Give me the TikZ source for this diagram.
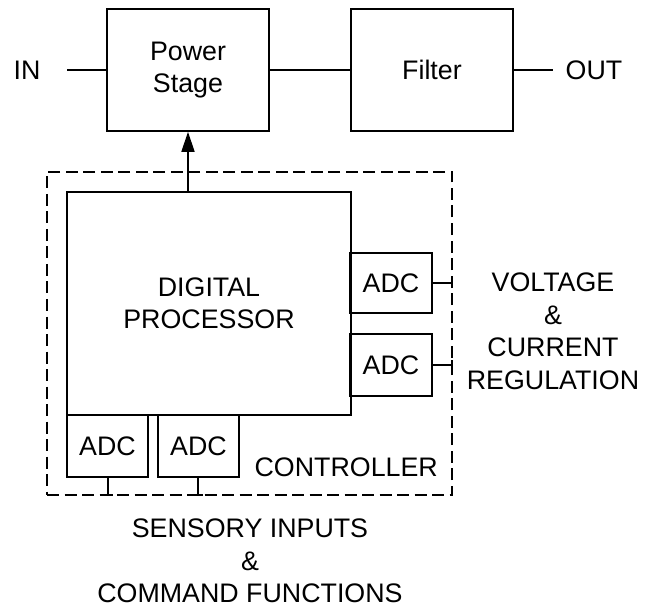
\documentclass[tikz,border=0pt]{standalone}
\usepackage{fontspec}
\setmainfont{Liberation Sans}
\usetikzlibrary{arrows.meta}
\begin{document}
\begin{tikzpicture}[x=1pt,y=-1pt,
  every node/.style={font=\fontsize{26.8}{32.5}\selectfont, inner sep=0pt, align=center},
  blk/.style={draw, line width=1.6pt, rectangle},
  wire/.style={line width=1.6pt},
  ctl/.style={draw, line width=2.6pt, dash pattern=on 12pt off 5.5pt},
  tip/.style={line width=1.6pt},
  lbl/.style={}]
\useasboundingbox (0,0) rectangle (654,607);
% top chain
\node[blk, minimum width=162pt, minimum height=122pt] (ps) at (188,70) {Power\\Stage};
\node[blk, minimum width=162pt, minimum height=122pt] (flt) at (432,70) {Filter};
\node[lbl] (in) at (27,70) {IN};
\node[lbl] (out) at (594,70) {OUT};
\coordinate (inE) at (67,70);
\coordinate (outW) at (553,70);
\draw[wire] (inE) -- (ps.west);
\draw[wire] (ps.east) -- (flt.west);
\draw[wire] (flt.east) -- (outW);
% controller
\node[ctl, minimum width=405pt, minimum height=323pt] (ctrl) at (249.5,333.5) {};
\node[blk, minimum width=284pt, minimum height=223pt] (dp) at (209,303.5) {DIGITAL\\PROCESSOR};
\node[blk, minimum width=82pt, minimum height=60pt] (adc1) at (391,283) {ADC};
\node[blk, minimum width=82pt, minimum height=62pt] (adc2) at (391,365) {ADC};
\node[blk, minimum width=81pt, minimum height=62pt] (adc3) at (107.5,446) {ADC};
\node[blk, minimum width=81pt, minimum height=62pt] (adc4) at (198.5,446) {ADC};
\node[lbl, anchor=east] (ctlbl) at (438,467) {CONTROLLER};
% arrow to power stage
\draw[wire, -{Triangle[length=20pt,width=13pt]}] (dp.north -| ps.south) -- (ps.south);
% stubs to border
\coordinate (s1) at (452,283);
\coordinate (s2) at (452,365);
\coordinate (s3) at (108,495);
\coordinate (s4) at (198,495);
\draw[wire] (adc1.east) -- (s1);
\draw[wire] (adc2.east) -- (s2);
\draw[wire] (adc3.south -| s3) -- (s3);
\draw[wire] (adc4.south -| s4) -- (s4);
\draw[tip] ([yshift=-5pt]s1) -- ([yshift=5pt]s1);
\draw[tip] ([yshift=-5pt]s2) -- ([yshift=5pt]s2);
\draw[tip] ([xshift=-5pt]s3) -- ([xshift=5pt]s3);
\draw[tip] ([xshift=-5pt]s4) -- ([xshift=5pt]s4);
% outside labels
\node[lbl] (vreg) at (553,331.5) {VOLTAGE\\\&\\CURRENT\\REGULATION};
\node[lbl] (sens) at (250,561) {SENSORY INPUTS\\\&\\COMMAND FUNCTIONS};
\end{tikzpicture}
\end{document}
